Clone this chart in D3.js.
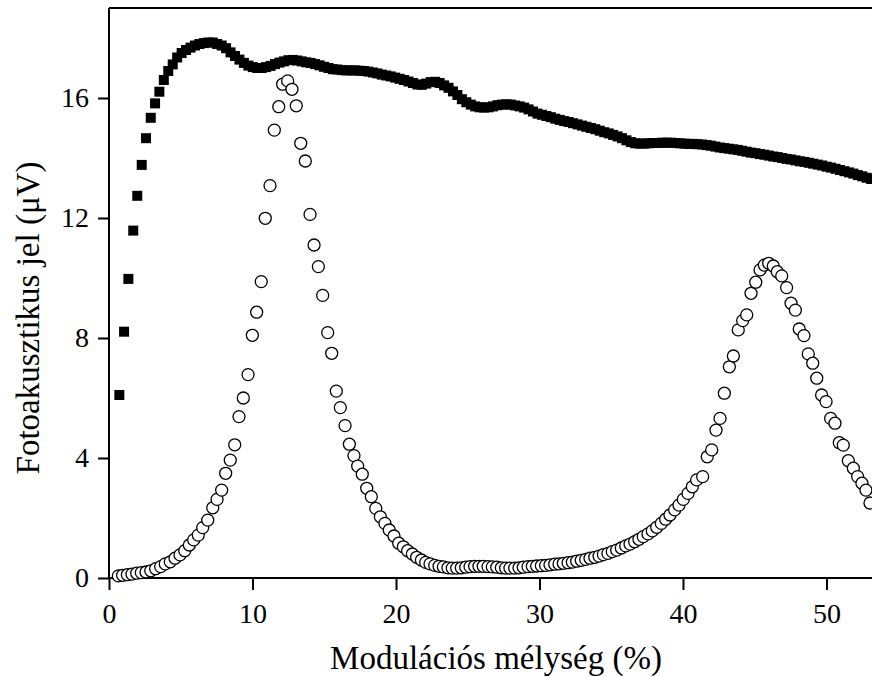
<!DOCTYPE html>
<html>
<head>
<meta charset="utf-8">
<script src="https://cdn.jsdelivr.net/npm/d3@7"></script>
<style>
  body { margin: 0; background: #fff; }
  svg { display: block; }
</style>
</head>
<body>
<div id="chart"></div>
<script>
// Filled squares: modulation depth (%) and signal (uV)
const squareX = [
  0.72, 1.05, 1.35, 1.69, 1.97, 2.28, 2.58, 2.91, 3.21, 3.51,
  3.82, 4.13, 4.44, 4.75, 5.06, 5.37, 5.68, 5.99, 6.30, 6.61,
  6.92, 7.23, 7.54, 7.85, 8.16, 8.47, 8.78, 9.09, 9.40, 9.71,
  10.02, 10.33, 10.64, 10.95, 11.26, 11.57, 11.88, 12.19, 12.50, 12.81,
  13.12, 13.43, 13.74, 14.05, 14.36, 14.67, 14.98, 15.29, 15.60, 15.91,
  16.22, 16.53, 16.84, 17.15, 17.46, 17.77, 18.08, 18.39, 18.70, 19.01,
  19.32, 19.63, 19.94, 20.25, 20.56, 20.87, 21.18, 21.49, 21.80, 22.11,
  22.42, 22.73, 23.04, 23.35, 23.66, 23.97, 24.28, 24.59, 24.90, 25.21,
  25.52, 25.83, 26.14, 26.45, 26.76, 27.07, 27.38, 27.69, 28.00, 28.31,
  28.62, 28.93, 29.24, 29.55, 29.86, 30.17, 30.48, 30.79, 31.10, 31.41,
  31.72, 32.03, 32.34, 32.65, 32.96, 33.27, 33.58, 33.89, 34.20, 34.51,
  34.82, 35.13, 35.44, 35.75, 36.06, 36.37, 36.68, 36.99, 37.30, 37.61,
  37.92, 38.23, 38.54, 38.85, 39.16, 39.47, 39.78, 40.09, 40.40, 40.71,
  41.02, 41.33, 41.64, 41.95, 42.26, 42.57, 42.88, 43.19, 43.50, 43.81,
  44.12, 44.43, 44.74, 45.05, 45.36, 45.67, 45.98, 46.29, 46.60, 46.91,
  47.22, 47.53, 47.84, 48.15, 48.46, 48.77, 49.08, 49.39, 49.70, 50.01,
  50.32, 50.63, 50.94, 51.25, 51.56, 51.87, 52.18, 52.49, 52.80, 53.11
];
const squareY = [
  6.10, 8.21, 9.97, 11.58, 12.74, 13.77, 14.66, 15.34, 15.82, 16.21,
  16.60, 16.90, 17.12, 17.35, 17.50, 17.60, 17.68, 17.75, 17.80, 17.83,
  17.85, 17.85, 17.80, 17.75, 17.66, 17.52, 17.40, 17.28, 17.17, 17.08,
  17.03, 17.00, 17.00, 17.03, 17.07, 17.13, 17.18, 17.22, 17.26, 17.27,
  17.25, 17.22, 17.19, 17.17, 17.13, 17.09, 17.04, 17.00, 16.96, 16.95,
  16.93, 16.92, 16.92, 16.92, 16.91, 16.90, 16.88, 16.85, 16.82, 16.78,
  16.75, 16.72, 16.68, 16.64, 16.60, 16.55, 16.50, 16.45, 16.44, 16.48,
  16.53, 16.54, 16.50, 16.42, 16.34, 16.22, 16.10, 15.96, 15.86, 15.78,
  15.72, 15.69, 15.68, 15.69, 15.72, 15.76, 15.78, 15.79, 15.78, 15.75,
  15.72, 15.68, 15.62, 15.55, 15.48, 15.44, 15.40, 15.36, 15.31, 15.27,
  15.23, 15.20, 15.16, 15.12, 15.08, 15.04, 15.00, 14.96, 14.91, 14.86,
  14.82, 14.77, 14.72, 14.66, 14.59, 14.53, 14.49, 14.48, 14.48, 14.49,
  14.50, 14.50, 14.51, 14.51, 14.51, 14.50, 14.49, 14.48, 14.47, 14.47,
  14.46, 14.45, 14.43, 14.41, 14.38, 14.35, 14.33, 14.31, 14.29, 14.27,
  14.24, 14.21, 14.18, 14.16, 14.13, 14.11, 14.08, 14.05, 14.03, 14.00,
  13.97, 13.95, 13.92, 13.89, 13.87, 13.84, 13.81, 13.78, 13.75, 13.71,
  13.68, 13.64, 13.60, 13.56, 13.52, 13.48, 13.43, 13.39, 13.34, 13.30
];

// Open circles: modulation depth (%) and signal (uV)
const circleX = [
  0.65, 0.95, 1.28, 1.60, 1.93, 2.25, 2.58, 2.91, 3.25, 3.60,
  3.92, 4.27, 4.60, 4.95, 5.28, 5.60, 5.90, 6.22, 6.53, 6.88,
  7.23, 7.53, 7.85, 8.13, 8.45, 8.76, 9.06, 9.36, 9.69, 9.99,
  10.29, 10.61, 10.89, 11.22, 11.52, 11.83, 12.10, 12.45, 12.75, 13.05,
  13.36, 13.68, 14.01, 14.29, 14.59, 14.89, 15.24, 15.52, 15.84, 16.12,
  16.45, 16.75, 17.07, 17.33, 17.65, 17.96, 18.28, 18.59, 18.91, 19.23,
  19.53, 19.86, 20.19, 20.51, 20.81, 21.14, 21.44, 21.77, 22.07, 22.37,
  22.70, 23.00, 23.30, 23.62, 23.92, 24.23, 24.55, 24.86, 25.16, 25.48,
  25.78, 26.08, 26.41, 26.71, 27.02, 27.34, 27.64, 27.94, 28.27, 28.57,
  28.87, 29.20, 29.50, 29.80, 30.13, 30.43, 30.73, 31.06, 31.36, 31.66,
  31.99, 32.29, 32.59, 32.91, 33.22, 33.52, 33.85, 34.15, 34.45, 34.77,
  35.07, 35.38, 35.70, 36.01, 36.31, 36.63, 36.93, 37.23, 37.56, 37.86,
  38.17, 38.49, 38.79, 39.09, 39.42, 39.72, 40.02, 40.35, 40.65, 40.95,
  41.37, 41.69, 42.00, 42.30, 42.58, 42.88, 43.23, 43.51, 43.85, 44.16,
  44.44, 44.74, 45.07, 45.37, 45.67, 45.97, 46.29, 46.57, 46.88, 47.22,
  47.53, 47.83, 48.10, 48.43, 48.73, 49.04, 49.32, 49.66, 49.97, 50.29,
  50.59, 50.89, 51.17, 51.52, 51.87, 52.17, 52.47, 52.75, 53.03
];
const circleY = [
  0.07, 0.09, 0.11, 0.13, 0.16, 0.18, 0.20, 0.24, 0.31, 0.38,
  0.47, 0.54, 0.66, 0.77, 0.91, 1.10, 1.27, 1.43, 1.68, 1.93,
  2.34, 2.62, 2.93, 3.49, 3.93, 4.44, 5.38, 6.00, 6.78, 8.09,
  8.86, 9.88, 11.99, 13.08, 14.93, 15.71, 16.46, 16.57, 16.29, 15.74,
  14.49, 13.90, 12.12, 11.10, 10.38, 9.42, 8.18, 7.49, 6.23, 5.68,
  5.08, 4.46, 4.08, 3.73, 3.46, 2.99, 2.71, 2.32, 2.04, 1.82,
  1.60, 1.40, 1.16, 1.04, 0.91, 0.80, 0.69, 0.60, 0.52, 0.47,
  0.42, 0.39, 0.37, 0.34, 0.33, 0.33, 0.34, 0.36, 0.38, 0.39,
  0.39, 0.39, 0.38, 0.37, 0.36, 0.34, 0.33, 0.33, 0.33, 0.34,
  0.36, 0.38, 0.39, 0.40, 0.41, 0.42, 0.44, 0.46, 0.47, 0.49,
  0.51, 0.53, 0.56, 0.59, 0.62, 0.66, 0.69, 0.73, 0.78, 0.82,
  0.88, 0.93, 1.00, 1.07, 1.13, 1.21, 1.29, 1.38, 1.47, 1.57,
  1.69, 1.82, 1.96, 2.10, 2.27, 2.43, 2.62, 2.82, 3.04, 3.27,
  3.38, 4.04, 4.27, 4.93, 5.32, 6.16, 7.04, 7.40, 8.27, 8.58,
  8.77, 9.49, 9.86, 10.27, 10.43, 10.49, 10.40, 10.21, 10.07, 9.68,
  9.16, 8.93, 8.30, 8.08, 7.47, 7.16, 6.66, 6.10, 5.88, 5.32,
  5.16, 4.51, 4.43, 3.91, 3.66, 3.38, 3.16, 2.93, 2.50
];

const xTicks = [0, 10, 20, 30, 40, 50];
const yTicks = [0, 4, 8, 12, 16];

// Layout
const size = { width: 872, height: 677 };
const margin = { left: 109, top: 8, bottom: 99 };
const font = "'Liberation Serif', 'Times New Roman', serif";

const svg = d3
  .select("#chart")
  .append("svg")
  .attr("width", size.width)
  .attr("height", size.height);

// Scales (the plot runs past the right edge of the picture)
const xScale = d3.scaleLinear([0, 55], [margin.left, margin.left + 55 * 14.35]);
const yScale = d3.scaleLinear([0, 19], [size.height - margin.bottom, margin.top]);

// Axes
const xAxis = (g) =>
  g
    .attr("transform", `translate(0,${yScale(0)})`)
    .call(d3.axisBottom(xScale).tickValues(xTicks).tickSize(12).tickPadding(13))
    .call((g) => g.select(".domain").attr("d", `M${margin.left},0H${size.width + 10}`));

const yAxis = (g) =>
  g
    .attr("transform", `translate(${margin.left},0)`)
    .call(d3.axisLeft(yScale).tickValues(yTicks).tickSize(11).tickPadding(9))
    .call((g) => g.select(".domain").attr("d", `M0,${yScale(0)}V${margin.top}`));

svg.append("g").attr("class", "x-axis").call(xAxis);
svg.append("g").attr("class", "y-axis").call(yAxis);

svg
  .selectAll(".x-axis, .y-axis")
  .selectAll("path, line")
  .attr("stroke", "#000")
  .attr("stroke-width", 2);

svg
  .selectAll(".x-axis text, .y-axis text")
  .attr("fill", "#000")
  .style("font-family", font)
  .style("font-size", "28px");

// Top frame line
svg
  .append("line")
  .attr("x1", margin.left)
  .attr("x2", size.width + 10)
  .attr("y1", yScale(19))
  .attr("y2", yScale(19))
  .attr("stroke", "#000")
  .attr("stroke-width", 2);

// Squares
const sq = 10;
svg
  .append("g")
  .attr("fill", "#000")
  .selectAll("rect")
  .data(d3.range(squareX.length))
  .join("rect")
  .attr("x", (i) => xScale(squareX[i]) - sq / 2)
  .attr("y", (i) => yScale(squareY[i]) - sq / 2)
  .attr("width", sq)
  .attr("height", sq);

// Circles
svg
  .append("g")
  .attr("fill", "#fff")
  .attr("stroke", "#000")
  .attr("stroke-width", 1.3)
  .selectAll("circle")
  .data(d3.range(circleX.length))
  .join("circle")
  .attr("cx", (i) => xScale(circleX[i]))
  .attr("cy", (i) => yScale(circleY[i]))
  .attr("r", 6);

// Axis titles
svg
  .append("text")
  .attr("x", 496)
  .attr("y", 669)
  .attr("text-anchor", "middle")
  .style("font-family", font)
  .style("font-size", "33px")
  .text("Modulációs mélység (%)");

svg
  .append("text")
  .attr("transform", "translate(39,318) rotate(-90)")
  .attr("text-anchor", "middle")
  .style("font-family", font)
  .style("font-size", "33px")
  .text("Fotoakusztikus jel (μV)");
</script>
</body>
</html>
